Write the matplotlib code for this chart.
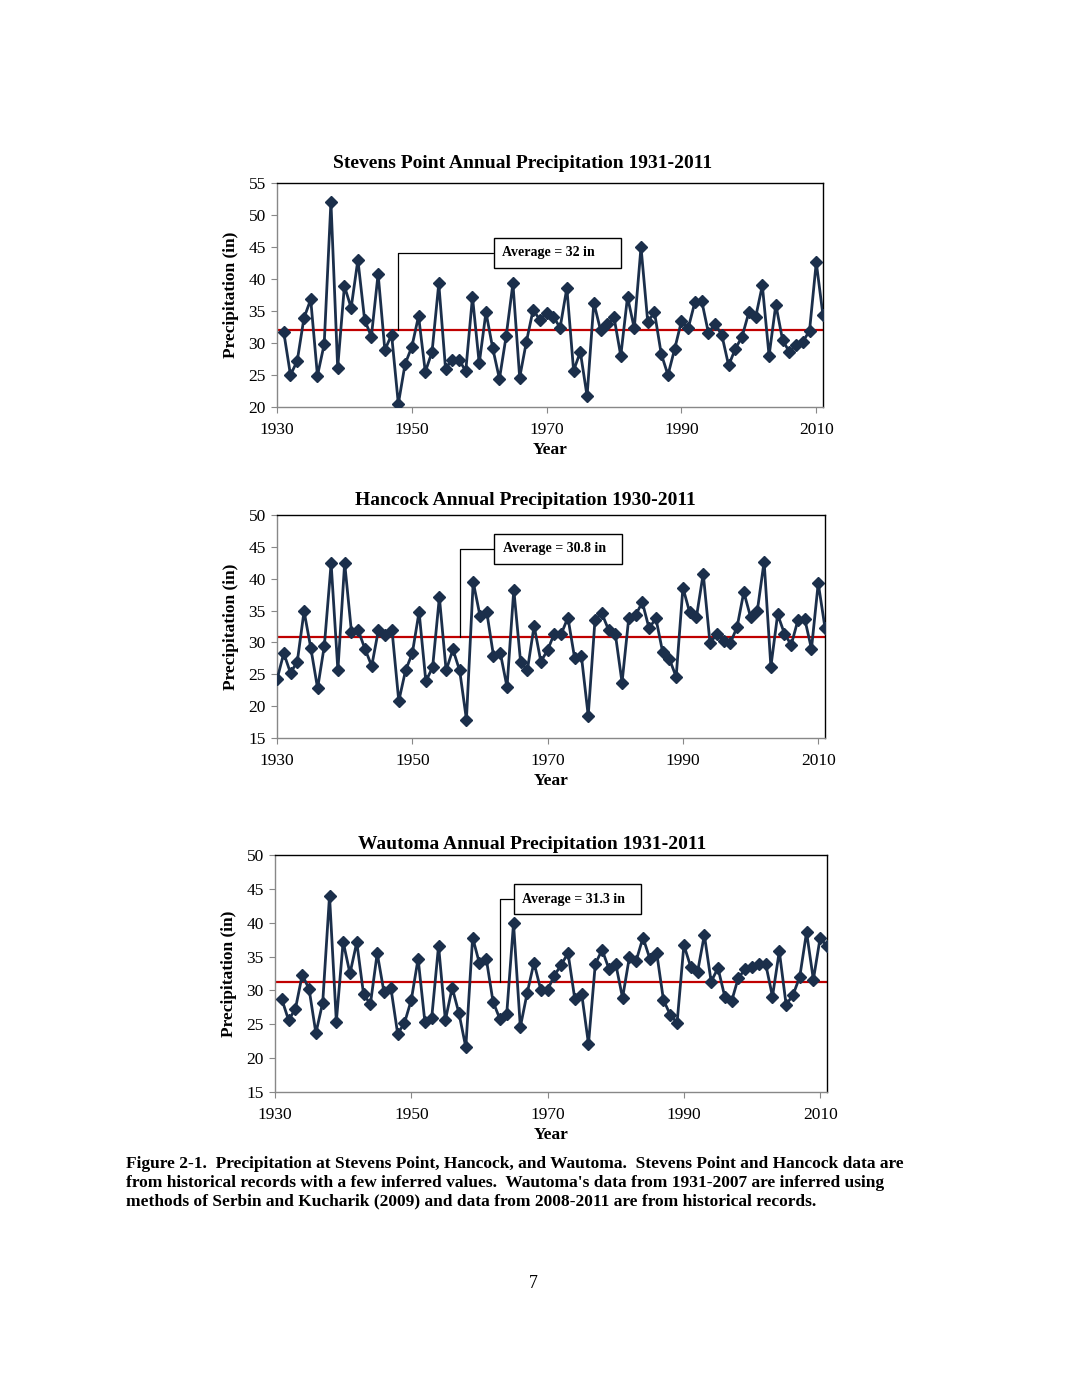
"""Stevens Point / Hancock / Wautoma annual precipitation, three stacked panels."""

import matplotlib
matplotlib.use("Agg")
import matplotlib.pyplot as plt

# ─── data (inches) ───────────────────────────────────────────────────────────
STEVENS_YEARS = list(range(1931, 2012))
STEVENS_PRECIP = [
    31.7, 25.0, 27.2, 33.9, 36.8, 24.9, 29.8, 52.1, 26.1, 38.9,
    35.5, 43.0, 33.6, 31.0, 40.8, 28.9, 31.3, 20.5, 26.7, 29.4,
    34.2, 25.5, 28.6, 39.3, 26.0, 27.4, 27.4, 25.6, 37.2, 26.8,
    34.8, 29.2, 24.4, 31.1, 39.3, 24.6, 30.2, 35.2, 33.6, 34.7,
    34.1, 32.4, 38.6, 25.7, 28.6, 21.7, 36.3, 32.0, 32.9, 34.0,
    28.0, 37.2, 32.3, 45.0, 33.3, 34.8, 28.3, 25.0, 29.1, 33.4,
    32.3, 36.4, 36.6, 31.6, 33.0, 31.2, 26.5, 29.1, 31.0, 34.8,
    34.0, 39.0, 28.0, 36.0, 30.5, 28.6, 29.7, 30.2, 31.9, 42.6,
    34.3,
]
STEVENS_AVG = 32.0

HANCOCK_YEARS = list(range(1930, 2012))
HANCOCK_PRECIP = [
    24.2, 28.3, 25.2, 27.0, 34.9, 29.1, 22.8, 29.5, 42.4, 25.6,
    42.5, 31.7, 31.9, 29.0, 26.3, 32.0, 31.1, 31.9, 20.8, 25.6,
    28.3, 34.8, 23.9, 26.1, 37.1, 25.6, 28.9, 25.6, 17.9, 39.5,
    34.2, 34.8, 27.9, 28.4, 23.0, 38.3, 27.0, 25.6, 32.6, 27.0,
    28.8, 31.4, 31.3, 33.9, 27.5, 27.8, 18.5, 33.5, 34.6, 32.0,
    31.4, 23.7, 33.9, 34.3, 36.3, 32.2, 33.8, 28.5, 27.4, 24.6,
    38.6, 34.7, 34.0, 40.8, 29.9, 31.3, 30.3, 29.9, 32.4, 37.9,
    34.0, 35.0, 42.7, 26.2, 34.4, 31.4, 29.6, 33.5, 33.7, 29.0,
    39.3, 32.3,
]
HANCOCK_AVG = 30.8

WAUTOMA_YEARS = list(range(1931, 2012))
WAUTOMA_PRECIP = [
    28.7, 25.6, 27.3, 32.3, 30.2, 23.7, 28.2, 44.0, 25.4, 37.2,
    32.5, 37.1, 29.4, 28.0, 35.5, 29.7, 30.4, 23.6, 25.2, 28.6,
    34.7, 25.3, 26.0, 36.6, 25.6, 30.4, 26.6, 21.6, 37.8, 34.0,
    34.7, 28.3, 25.8, 26.5, 39.9, 24.6, 29.6, 34.1, 30.1, 30.1,
    32.2, 33.8, 35.5, 28.7, 29.5, 22.1, 33.9, 36.0, 33.2, 33.9,
    28.9, 34.9, 34.4, 37.8, 34.7, 35.6, 28.6, 26.4, 25.2, 36.7,
    33.5, 32.7, 38.2, 31.3, 33.3, 29.1, 28.4, 31.9, 33.1, 33.5,
    33.9, 33.9, 29.1, 35.8, 27.9, 29.3, 32.0, 38.6, 31.6, 37.8,
    36.5,
]
WAUTOMA_AVG = 31.3

X_TICKS = [1930, 1950, 1970, 1990, 2010]

CAPTION = (
    "Figure 2-1.  Precipitation at Stevens Point, Hancock, and Wautoma.  Stevens Point and Hancock data are\n"
    "from historical records with a few inferred values.  Wautoma's data from 1931-2007 are inferred using\n"
    "methods of Serbin and Kucharik (2009) and data from 2008-2011 are from historical records."
)

COLOR_LINE = "#1b2f4b"
COLOR_AVG = "#c00000"

plt.rcParams.update({
    "font.family": ["Liberation Serif", "DejaVu Serif"],
    "font.size": 12,
})


def draw_panel(ax, years, precip, avg, label, title, title_x, title_pad,
               ylim, box_xy, elbow_x):
    ax.plot(years, precip, color=COLOR_LINE, lw=2.0, marker="D", ms=6,
            mec=COLOR_LINE, mfc=COLOR_LINE, zorder=3)
    ax.axhline(avg, color=COLOR_AVG, lw=1.6, zorder=2)

    ax.set_xlim(1930, 2011)
    ax.set_ylim(*ylim)
    ax.set_xticks(X_TICKS)
    ax.set_yticks(range(ylim[0], ylim[1] + 1, 5))
    ax.tick_params(direction="out", length=4, width=0.8, color="#888888",
                   labelsize=12.5)
    ax.tick_params(axis="x", pad=7)
    ax.tick_params(axis="y", pad=4)

    for side in ("left", "bottom"):
        ax.spines[side].set_color("#888888")
        ax.spines[side].set_linewidth(1.0)
    for side in ("top", "right"):
        ax.spines[side].set_color("black")
        ax.spines[side].set_linewidth(1.0)

    ax.set_title(title, fontsize=14, fontweight="bold", pad=title_pad)
    ax.title.set_x(title_x)
    ax.set_xlabel("Year", fontsize=12.5, fontweight="bold", labelpad=3)
    ax.set_ylabel("Precipitation (in)", fontsize=12.5, fontweight="bold", labelpad=7)

    ax.annotate(
        label, xy=(elbow_x, avg), xytext=box_xy,
        textcoords="data", ha="left", va="center",
        fontsize=10, fontweight="bold",
        bbox=dict(boxstyle="square,pad=0.62", fc="white", ec="black", lw=1.0),
        arrowprops=dict(arrowstyle="-", color="black", lw=0.9,
                        connectionstyle="angle,angleA=0,angleB=90,rad=0",
                        shrinkA=0, shrinkB=0),
        zorder=4,
    )


fig = plt.figure(figsize=(10.66, 13.8), dpi=100)

ax1 = fig.add_axes([277 / 1066, 1 - 407 / 1380, 546 / 1066, 224 / 1380])
draw_panel(ax1, STEVENS_YEARS, STEVENS_PRECIP, STEVENS_AVG,
           "Average = 32 in     ",
           "Stevens Point Annual Precipitation 1931-2011", 0.449, 11,
           (20, 55), (1963.4, 44.1), 1948)

ax2 = fig.add_axes([277 / 1066, 1 - 738 / 1380, 548 / 1066, 223 / 1380])
draw_panel(ax2, HANCOCK_YEARS, HANCOCK_PRECIP, HANCOCK_AVG,
           "Average = 30.8 in  ",
           "Hancock Annual Precipitation 1930-2011", 0.453, 7,
           (15, 50), (1963.4, 44.7), 1957)

ax3 = fig.add_axes([275 / 1066, 1 - 1092 / 1380, 552 / 1066, 237 / 1380])
draw_panel(ax3, WAUTOMA_YEARS, WAUTOMA_PRECIP, WAUTOMA_AVG,
           "Average = 31.3 in  ",
           "Wautoma Annual Precipitation 1931-2011", 0.466, 4.5,
           (15, 50), (1966.3, 43.5), 1963)

fig.text(126 / 1066, 1 - 1156 / 1380, CAPTION, ha="left", va="top",
         fontsize=12.5, fontweight="bold", linespacing=1.23)
fig.text(533 / 1066, 1 - 1283 / 1380, "7", ha="center", va="center", fontsize=13)

fig.savefig("out.png", dpi=100)
